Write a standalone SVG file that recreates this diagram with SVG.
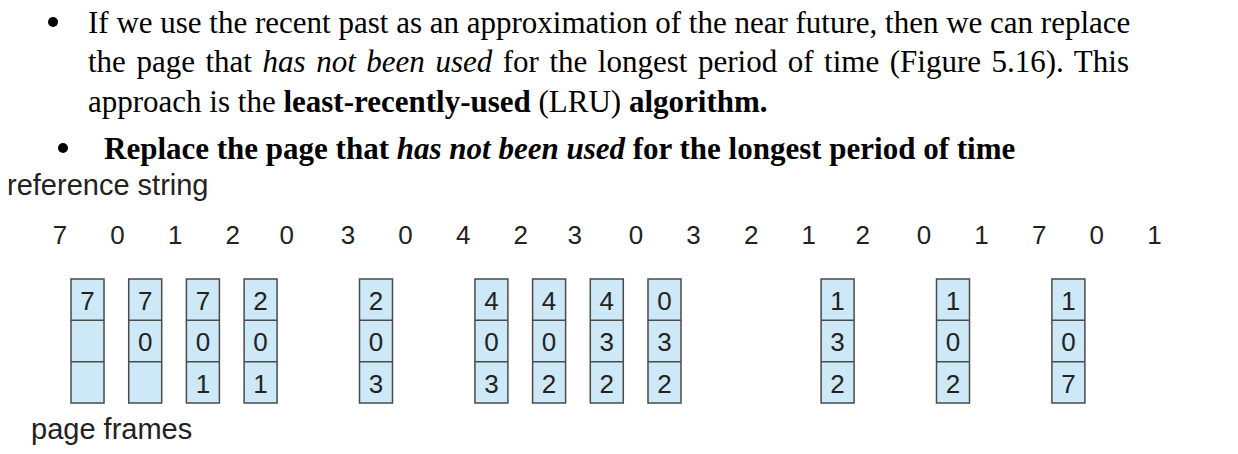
<svg xmlns="http://www.w3.org/2000/svg" width="1238" height="454" viewBox="0 0 1238 454">
  <style>
    .body { font-family: "Liberation Serif", "Times New Roman", serif; font-size: 31px; fill: #000; }
    .b { font-weight: bold; }
    .i { font-style: italic; }
    .lbl { font-family: "Liberation Sans", Arial, sans-serif; font-size: 29px; fill: #222; }
    .ref { font-family: "Liberation Sans", Arial, sans-serif; font-size: 26px; fill: #222; text-anchor: middle; }
    .frame text { font-family: "Liberation Sans", Arial, sans-serif; font-size: 26px; fill: #222; text-anchor: middle; }
  </style>
  <rect width="1238" height="454" fill="#fff"/>

  <!-- explanatory bullet text -->
  <g id="text">
    <circle cx="53" cy="22" r="5"/>
    <text class="body" x="88" y="33">If we use the recent past as an approximation of the near future, then we can replace</text>
    <text class="body" x="88" y="72" word-spacing="2.8">the page that <tspan class="i">has not been used</tspan> for the longest period of time (Figure 5.16). This</text>
    <text class="body" x="88" y="112">approach is the <tspan class="b">least-recently-used</tspan> (LRU) <tspan class="b">algorithm.</tspan></text>
    <circle cx="63" cy="148" r="5"/>
    <text class="body b" x="104" y="159" font-size="33">Replace the page that <tspan class="i">has not been used</tspan> for the longest period of time</text>
  </g>

  <!-- reference string -->
  <g id="reference-string">
    <text class="lbl" x="7" y="195">reference string</text>
    <text class="ref" y="244">
      <tspan x="60">7</tspan><tspan x="117.6">0</tspan><tspan x="175.2">1</tspan><tspan x="232.8">2</tspan><tspan x="290.4">0</tspan>
      <tspan x="348">3</tspan><tspan x="405.6">0</tspan><tspan x="463.2">4</tspan><tspan x="520.8">2</tspan><tspan x="578.4">3</tspan>
      <tspan x="636">0</tspan><tspan x="693.6">3</tspan><tspan x="751.2">2</tspan><tspan x="808.8">1</tspan><tspan x="866.4">2</tspan>
      <tspan x="924">0</tspan><tspan x="981.6">1</tspan><tspan x="1039.2">7</tspan><tspan x="1096.8">0</tspan><tspan x="1154.4">1</tspan>
    </text>
  </g>

  <defs>
    <!-- one 3-frame column: 33 wide, three cells of ~41.3 -->
    <g id="col" fill="#cde8f7" stroke="#4a4a4a" stroke-width="1.5">
      <rect x="0" y="0" width="33" height="124"/>
      <line x1="0" y1="41.3" x2="33" y2="41.3"/>
      <line x1="0" y1="82.7" x2="33" y2="82.7"/>
    </g>
  </defs>

  <!-- page frame states after each fault -->
  <g id="frame-0" class="frame" transform="translate(71,279)"><use href="#col"/><text x="16.5" y="31">7</text></g>
  <g id="frame-1" class="frame" transform="translate(128.7,279)"><use href="#col"/><text x="16.5" y="31">7</text><text x="16.5" y="72.3">0</text></g>
  <g id="frame-2" class="frame" transform="translate(186.4,279)"><use href="#col"/><text x="16.5" y="31">7</text><text x="16.5" y="72.3">0</text><text x="16.5" y="113.7">1</text></g>
  <g id="frame-3" class="frame" transform="translate(244.1,279)"><use href="#col"/><text x="16.5" y="31">2</text><text x="16.5" y="72.3">0</text><text x="16.5" y="113.7">1</text></g>
  <g id="frame-5" class="frame" transform="translate(359.5,279)"><use href="#col"/><text x="16.5" y="31">2</text><text x="16.5" y="72.3">0</text><text x="16.5" y="113.7">3</text></g>
  <g id="frame-7" class="frame" transform="translate(474.9,279)"><use href="#col"/><text x="16.5" y="31">4</text><text x="16.5" y="72.3">0</text><text x="16.5" y="113.7">3</text></g>
  <g id="frame-8" class="frame" transform="translate(532.6,279)"><use href="#col"/><text x="16.5" y="31">4</text><text x="16.5" y="72.3">0</text><text x="16.5" y="113.7">2</text></g>
  <g id="frame-9" class="frame" transform="translate(590.3,279)"><use href="#col"/><text x="16.5" y="31">4</text><text x="16.5" y="72.3">3</text><text x="16.5" y="113.7">2</text></g>
  <g id="frame-10" class="frame" transform="translate(648,279)"><use href="#col"/><text x="16.5" y="31">0</text><text x="16.5" y="72.3">3</text><text x="16.5" y="113.7">2</text></g>
  <g id="frame-13" class="frame" transform="translate(821.1,279)"><use href="#col"/><text x="16.5" y="31">1</text><text x="16.5" y="72.3">3</text><text x="16.5" y="113.7">2</text></g>
  <g id="frame-15" class="frame" transform="translate(936.5,279)"><use href="#col"/><text x="16.5" y="31">1</text><text x="16.5" y="72.3">0</text><text x="16.5" y="113.7">2</text></g>
  <g id="frame-17" class="frame" transform="translate(1051.9,279)"><use href="#col"/><text x="16.5" y="31">1</text><text x="16.5" y="72.3">0</text><text x="16.5" y="113.7">7</text></g>

  <g id="caption">
    <text class="lbl" x="31" y="439">page frames</text>
  </g>
</svg>
